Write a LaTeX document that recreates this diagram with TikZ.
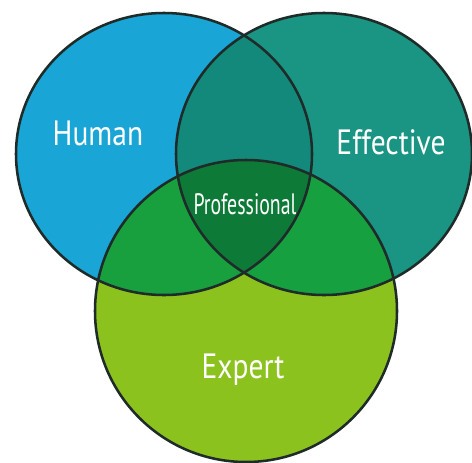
\documentclass[tikz,border=0pt]{standalone}
\usepackage{fontspec}
\setmainfont{PT Sans}
\usepackage{tikz}
\definecolor{humanblue}{HTML}{19A6D6}
\definecolor{effteal}{HTML}{1A9483}
\definecolor{expertgreen}{HTML}{8CC21E}
\definecolor{humaneff}{HTML}{12897B}
\definecolor{humanexp}{HTML}{18A03E}
\definecolor{effexp}{HTML}{16A040}
\definecolor{profgreen}{HTML}{0E7A38}
\definecolor{pencil}{HTML}{1F2B28}

% the three sets, in pixel units
\newcommand{\humanset}{(164,154) ellipse [x radius=148, y radius=141]}
\newcommand{\effset}{(324,154) ellipse [x radius=148, y radius=141]}
\newcommand{\expertset}{(246,311) ellipse [x radius=151, y radius=151]}

\begin{document}
\begin{tikzpicture}[x=0.05cm,y=-0.05cm,
    setname/.style={text=white,font=\fontsize{50}{54}\selectfont,xscale=0.84},
    rim/.style={draw=pencil,line width=3.6pt}]
  \useasboundingbox[fill=white] (0,0) rectangle (472,462);

  % Top: Human and Effective
  \fill[humanblue] \humanset;
  \fill[effteal] \effset;
  \begin{scope}
    \clip \humanset;
    \fill[humaneff] \effset;
  \end{scope}

  % Bottom: Expert and its overlaps
  \fill[expertgreen] \expertset;
  \begin{scope}
    \clip \expertset;
    \fill[humanexp] \humanset;
    \fill[effexp] \effset;
    \clip \humanset;
    \fill[profgreen] \effset;
  \end{scope}

  % Outlines
  \draw[rim] \humanset;
  \draw[rim] \effset;
  \draw[rim] \expertset;

  % Labels
  \node[setname] (human) at (98,133) {Human};
  \node[setname] (effective) at (391,142) {Effective};
  \node[setname] (expert) at (243,370) {Expert};
  \node[setname,font=\fontsize{42}{46}\selectfont,xscale=0.8] (prof) at (245,204) {Professional};
\end{tikzpicture}
\end{document}
